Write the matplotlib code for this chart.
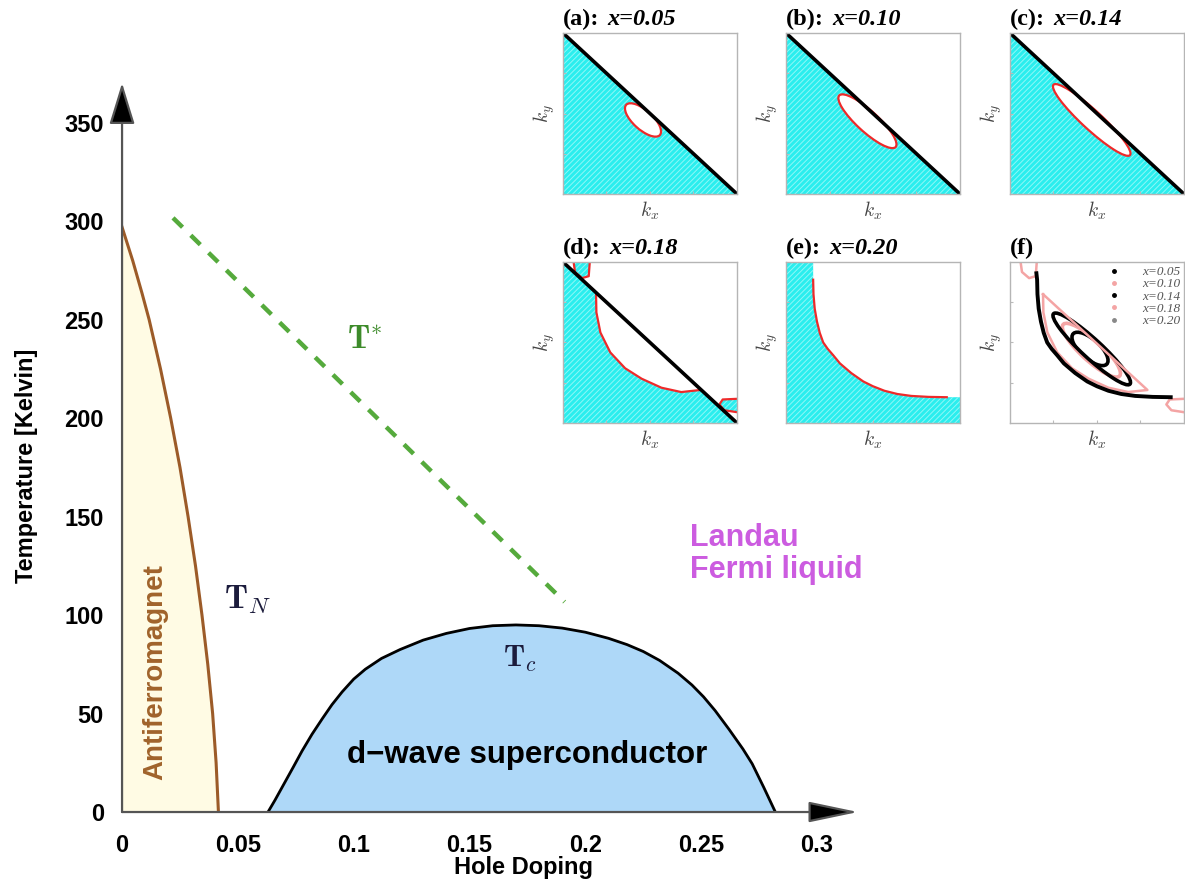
import numpy as np
import matplotlib
matplotlib.use("Agg")
import matplotlib.pyplot as plt
from matplotlib.patches import Ellipse, Polygon
from matplotlib.lines import Line2D

plt.rcParams['mathtext.fontset'] = 'cm'
plt.rcParams['hatch.linewidth'] = 0.7

# ============================================================================
# Phase diagram data (hole doping, temperature in K)
# ============================================================================
tn_doping = [0.0, 0.0046, 0.0086, 0.0117, 0.0166, 0.021, 0.025, 0.0285,
             0.0317, 0.0345, 0.037, 0.0391, 0.0406, 0.0416]
tn_temp = [297, 280, 263.5, 250, 225, 200, 175, 150, 125, 100, 75, 50, 25, 0]

tc_doping = [0.063, 0.066, 0.070, 0.074, 0.0777, 0.082, 0.0865, 0.0906,
             0.095, 0.100, 0.105, 0.112, 0.120, 0.130, 0.140, 0.150, 0.160,
             0.170, 0.180, 0.190, 0.200, 0.210, 0.218, 0.225, 0.232, 0.240,
             0.246, 0.251, 0.256, 0.262, 0.268, 0.272, 0.277, 0.282]
tc_temp = [0, 6, 14.5, 23, 31, 39.5, 47.5, 54.5, 61, 67.5, 72.5, 78, 82.5,
           87.3, 90.7, 93.2, 94.6, 95, 94.6, 93.4, 91.3, 88.2, 85, 81.5,
           77, 70.5, 64.5, 58.5, 51.5, 42, 32, 24.5, 12.5, 0]

tstar_doping = [0.022, 0.191]
tstar_temp = [301.7, 106.7]

x_ticks = [0, 0.05, 0.1, 0.15, 0.2, 0.25, 0.3]
x_tick_labels = ['0', '0.05', '0.1', '0.15', '0.2', '0.25', '0.3']
y_ticks = [0, 50, 100, 150, 200, 250, 300, 350]

# ============================================================================
# Fermi surface insets (kx, ky normalised to the quarter zone)
# ============================================================================
panel_tags = ['(a):', '(b):', '(c):', '(d):', '(e):', '(f)']
panel_doping = ['x=0.05', 'x=0.10', 'x=0.14', 'x=0.18', 'x=0.20', '']

# hole pockets for x = 0.05, 0.10, 0.14
pocket_kx = [0.46, 0.468, 0.47]
pocket_ky = [0.46, 0.452, 0.46]
pocket_len = [0.27, 0.456, 0.62]
pocket_wid = [0.115, 0.125, 0.115]

# x = 0.18 crescent pocket (arc below the zone boundary)
crescent_kx = [0.19, 0.192, 0.215, 0.272, 0.357, 0.452, 0.566, 0.68, 0.79]
crescent_ky = [0.80, 0.687, 0.562, 0.438, 0.34, 0.275, 0.219, 0.192, 0.205]

# x = 0.18 small electron pockets at the zone corners
corner1_kx = [0.061, 0.069, 0.11, 0.148, 0.154]
corner1_ky = [1.0, 0.938, 0.90, 0.912, 1.0]
corner2_kx = [1.0, 0.918, 0.899, 0.928, 1.0]
corner2_ky = [0.15, 0.146, 0.115, 0.079, 0.067]

# x = 0.20 large Fermi surface
fs_kx = [0.152, 0.156, 0.158, 0.165, 0.178, 0.194, 0.214, 0.24, 0.272,
         0.31, 0.375, 0.444, 0.50, 0.566, 0.64, 0.72, 0.82, 0.924]
fs_ky = [0.93, 0.89, 0.80, 0.71, 0.63, 0.56, 0.50, 0.46, 0.42, 0.37,
         0.31, 0.258, 0.228, 0.20, 0.18, 0.168, 0.162, 0.16]

legend_labels = ['x=0.05', 'x=0.10', 'x=0.14', 'x=0.18', 'x=0.20']

cyan = '#2aeeee'
red = '#ee2a2a'
pink = '#f4a4a4'

# ============================================================================
# Figure
# ============================================================================
fig = plt.figure(figsize=(11.85, 8.81), dpi=100)

ax = fig.add_axes([0.1030, 0.0783, 0.6211, 0.8275])
ax.set_facecolor('none')
ax.set_xlim(0, 0.3177)
ax.set_ylim(0, 370.2)
for s in ax.spines.values():
    s.set_visible(False)

# antiferromagnet
ax.fill_betweenx(tn_temp, 0, tn_doping, color='#fffbe4', lw=0)
ax.plot(tn_doping, tn_temp, color='#9c5b28', lw=2.2)

# superconducting dome
ax.fill_between(tc_doping, 0, tc_temp, color='#aed8f8', lw=0)
ax.plot(tc_doping, tc_temp, color='black', lw=2)

# pseudogap line
ax.plot(tstar_doping, tstar_temp, color='#55aa3c', lw=3.2, ls=(0, (3, 2.6)))

# axes arrows
ax.annotate('', xy=(1, 0), xytext=(0, 0), xycoords='axes fraction',
            arrowprops=dict(arrowstyle='-|>,head_length=3.1,head_width=0.65',
                            fc='black', ec='#555555', lw=1.6,
                            shrinkA=0, shrinkB=0))
ax.annotate('', xy=(0, 1), xytext=(0, 0), xycoords='axes fraction',
            arrowprops=dict(arrowstyle='-|>,head_length=2.6,head_width=0.8',
                            fc='black', ec='#555555', lw=1.6,
                            shrinkA=0, shrinkB=0))

ax.set_xticks(x_ticks)
ax.set_xticklabels(x_tick_labels)
ax.set_yticks(y_ticks)
ax.tick_params(length=0, labelsize=17)
ax.tick_params(axis='x', pad=16)
ax.tick_params(axis='y', pad=13)
for lab in ax.get_xticklabels() + ax.get_yticklabels():
    lab.set_fontfamily('Liberation Sans')
    lab.set_fontweight('bold')

ax.set_xlabel('Hole Doping', fontsize=17, fontweight='bold',
              fontfamily='Liberation Sans')
ax.xaxis.set_label_coords(0.545, -0.061)
ax.set_ylabel('Temperature [Kelvin]', fontsize=17, fontweight='bold',
              fontfamily='Liberation Sans')
ax.yaxis.set_label_coords(-0.114, 0.475)

# region labels
ax.text(0.0142, 71, 'Antiferromagnet', rotation=90, ha='center', va='center',
        fontsize=20, fontweight='bold', color='#a0632b',
        fontfamily='Liberation Sans')
ax.text(0.1748, 29, 'd\u2212wave superconductor', ha='center', va='center',
        fontsize=22.5, fontweight='bold', color='black',
        fontfamily='Liberation Sans')
ax.text(0.245, 131, 'Landau\nFermi liquid', ha='left', va='center',
        fontsize=22, fontweight='bold', color='#cc5ce0',
        fontfamily='Liberation Sans', linespacing=1.1)
ax.text(0.0544, 108, r'$\mathbf{T}_{N}$', ha='center', va='center',
        fontsize=24, color='#1c1c3c')
ax.text(0.1049, 240, r'$\mathbf{T}^{*}$', ha='center', va='center',
        fontsize=23, color='#3d8b2a')
ax.text(0.1718, 78, r'$\mathbf{T}_{c}$', ha='center', va='center',
        fontsize=22, color='#1c1c3c')

# ============================================================================
# Insets
# ============================================================================
col_left = [0.4751, 0.6633, 0.8523]
row_bottom = [0.7798, 0.5199]
inset_w = 0.1468
inset_h = 0.1827

insets = []
for i in range(6):
    r, c = divmod(i, 3)
    iax = fig.add_axes([col_left[c], row_bottom[r], inset_w, inset_h])
    iax.set_xlim(0, 1)
    iax.set_ylim(0, 1)
    iax.set_xticks([0.25, 0.5, 0.75])
    iax.set_yticks([0.25, 0.5, 0.75])
    iax.tick_params(direction='in', length=2.5, color='#bbbbbb',
                    labelbottom=False, labelleft=False)
    for s in iax.spines.values():
        s.set_color('#b5b5b5')
        s.set_linewidth(1)
    iax.set_xlabel(r'$k_x$', fontsize=14, color='#444444', labelpad=4)
    iax.set_ylabel(r'$k_y$', fontsize=14, color='#444444', labelpad=4)

    t1 = iax.text(0, 1.02, panel_tags[i], transform=iax.transAxes,
                  ha='left', va='bottom', fontsize=17.5, fontweight='bold',
                  fontfamily='Liberation Serif')
    if panel_doping[i]:
        iax.annotate(panel_doping[i], xy=(1, 0), xycoords=t1,
                     xytext=(6, 0), textcoords='offset points',
                     ha='left', va='bottom', fontsize=17.5, fontweight='bold',
                     fontstyle='italic', fontfamily='Liberation Serif')
    insets.append(iax)

# (a)-(c): hole pockets below the zone boundary
for i in range(3):
    iax = insets[i]
    iax.add_patch(Polygon([(0, 0), (0, 1), (1, 0)], closed=True,
                          facecolor=cyan, edgecolor='#8ff7f7', hatch='//////',
                          lw=0))
    iax.add_patch(Ellipse((pocket_kx[i], pocket_ky[i]), pocket_len[i],
                          pocket_wid[i], angle=-45, facecolor='white',
                          edgecolor=red, lw=1.6))
    iax.plot([0, 1], [1, 0], color='black', lw=2.6, solid_capstyle='butt')

# (d): crescent + corner pockets
iax = insets[3]
iax.add_patch(Polygon([(0, 0), (0, 1), (1, 0)], closed=True,
                      facecolor=cyan, edgecolor='#8ff7f7', hatch='//////', lw=0))
iax.add_patch(Polygon(list(zip(crescent_kx, crescent_ky)), closed=True,
                      facecolor='white', lw=0))
iax.plot(crescent_kx, crescent_ky, color=red, lw=1.6)
for kx, ky in [(corner1_kx, corner1_ky), (corner2_kx, corner2_ky)]:
    iax.add_patch(Polygon(list(zip(kx, ky)), closed=True, facecolor=cyan,
                          edgecolor='#8ff7f7', hatch='//////', lw=0))
    iax.plot(kx, ky, color=red, lw=1.6)
iax.plot([0, 1], [1, 0], color='black', lw=2.6, solid_capstyle='butt')

# (e): large Fermi surface
iax = insets[4]
e_kx = [0, 0, fs_kx[1]] + fs_kx[1:] + [1, 1]
e_ky = [0, 1, 1] + fs_ky[1:] + [fs_ky[-1], 0]
iax.add_patch(Polygon(list(zip(e_kx, e_ky)), closed=True, facecolor=cyan,
                      edgecolor='#8ff7f7', hatch='//////', lw=0))
iax.plot(fs_kx[1:], fs_ky[1:], color=red, lw=1.6)

# (f): overlay of all Fermi surfaces
iax = insets[5]
f_colors = ['black', pink, 'black']
for i in range(3):
    iax.add_patch(Ellipse((pocket_kx[i], pocket_ky[i]), pocket_len[i],
                          pocket_wid[i], angle=-45, facecolor='none',
                          edgecolor=f_colors[i], lw=2.6))
iax.plot(crescent_kx + [crescent_kx[0]], crescent_ky + [crescent_ky[0]],
         color=pink, lw=1.8)
iax.plot(corner1_kx, corner1_ky, color=pink, lw=1.8)
iax.plot(corner2_kx, corner2_ky, color=pink, lw=1.8)
iax.plot(fs_kx, fs_ky, color='black', lw=2.8)
handles = [Line2D([], [], ls='', marker='o', ms=2.5, color=c)
           for c in ['black', pink, 'black', pink, '#888888']]
leg = iax.legend(handles, legend_labels,
                 loc='upper right', frameon=False,
                 handletextpad=1.6, labelspacing=0.0, borderaxespad=0.1,
                 handlelength=1.0, borderpad=0.2,
                 prop={'family': 'Liberation Serif', 'style': 'italic',
                       'size': 9.5})
for t in leg.get_texts():
    t.set_color('#555555')

fig.savefig('out.png', dpi=100)
